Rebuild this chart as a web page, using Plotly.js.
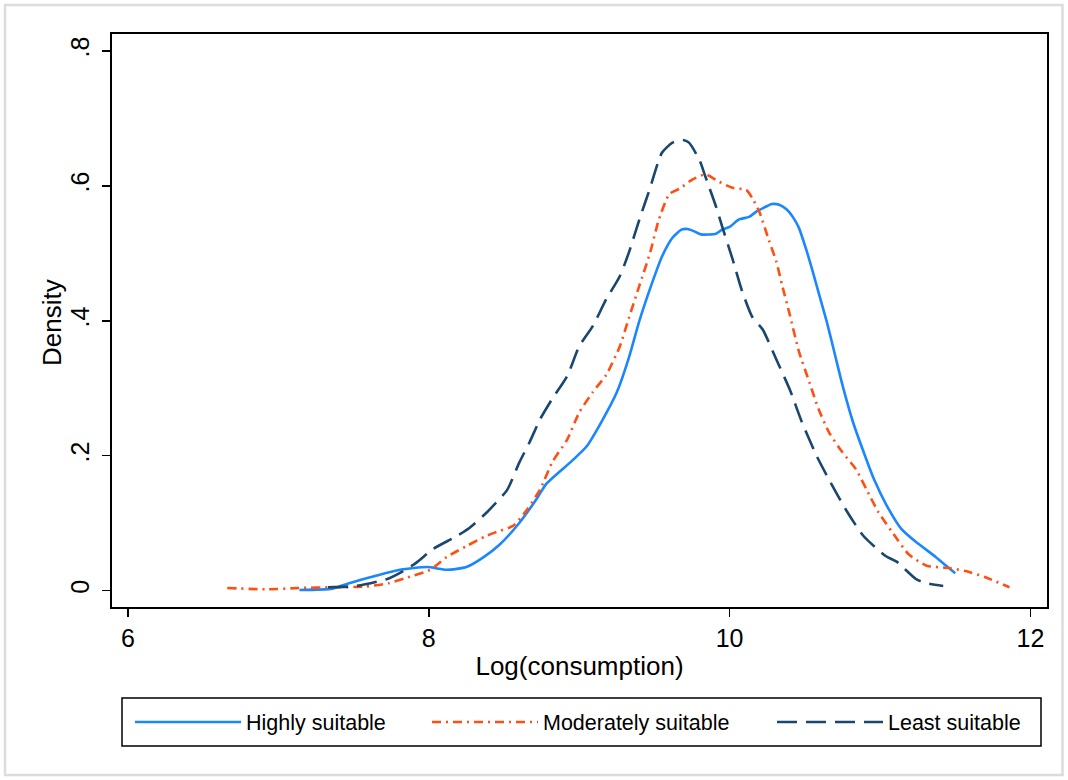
<!DOCTYPE html>
<html>
<head>
<meta charset="utf-8">
<script src="https://cdn.plot.ly/plotly-3.0.1.min.js"></script>
<style>html,body{margin:0;padding:0;background:#fff;}#chart{width:1068px;height:780px;}</style>
</head>
<body>
<div id="chart"></div>
<script>
// Highly suitable
const highX = [7.14,7.36,7.47,7.63,7.81,7.99,8.12,8.25,8.36,8.47,8.60,8.72,8.78,8.95,9.05,9.15,9.25,9.33,9.40,9.47,9.55,9.62,9.68,9.72,9.76,9.81,9.91,9.95,10.00,10.06,10.13,10.18,10.24,10.28,10.33,10.38,10.42,10.46,10.51,10.55,10.60,10.65,10.70,10.75,10.82,10.90,10.96,11.04,11.14,11.24,11.37,11.44,11.50];
const highY = [0.001,0.003,0.011,0.021,0.031,0.035,0.031,0.035,0.049,0.068,0.100,0.137,0.158,0.192,0.214,0.251,0.294,0.345,0.400,0.447,0.495,0.523,0.535,0.536,0.533,0.528,0.529,0.535,0.539,0.550,0.554,0.562,0.569,0.573,0.572,0.565,0.554,0.538,0.505,0.475,0.435,0.395,0.350,0.305,0.250,0.200,0.165,0.128,0.092,0.072,0.050,0.037,0.026];
// Moderately suitable
const modX = [6.66,6.92,7.14,7.36,7.57,7.73,7.85,8.01,8.12,8.25,8.38,8.45,8.56,8.65,8.74,8.82,8.92,9.00,9.09,9.18,9.27,9.33,9.40,9.47,9.53,9.60,9.67,9.75,9.84,9.93,10.02,10.11,10.15,10.20,10.26,10.31,10.35,10.40,10.46,10.53,10.59,10.66,10.75,10.84,10.91,10.99,11.08,11.19,11.31,11.44,11.57,11.70,11.86];
const modY = [0.004,0.002,0.004,0.005,0.006,0.011,0.019,0.031,0.050,0.066,0.081,0.087,0.096,0.119,0.150,0.190,0.224,0.264,0.294,0.320,0.362,0.404,0.452,0.500,0.550,0.588,0.596,0.609,0.617,0.606,0.597,0.594,0.582,0.560,0.520,0.488,0.452,0.409,0.355,0.309,0.270,0.235,0.205,0.180,0.150,0.116,0.087,0.054,0.037,0.034,0.029,0.020,0.005];
// Least suitable
const leastX = [7.33,7.52,7.72,7.83,7.92,8.03,8.17,8.27,8.39,8.52,8.60,8.67,8.74,8.82,8.92,9.00,9.09,9.18,9.27,9.33,9.40,9.47,9.55,9.62,9.69,9.73,9.80,9.84,9.91,9.95,10.02,10.08,10.15,10.22,10.31,10.40,10.48,10.58,10.66,10.77,10.89,11.04,11.11,11.24,11.31,11.42];
const leastY = [0.005,0.007,0.017,0.029,0.042,0.062,0.079,0.093,0.117,0.149,0.189,0.220,0.254,0.284,0.318,0.362,0.392,0.432,0.466,0.501,0.550,0.596,0.649,0.664,0.668,0.664,0.638,0.613,0.569,0.540,0.491,0.446,0.406,0.387,0.343,0.298,0.250,0.199,0.165,0.121,0.081,0.051,0.043,0.017,0.011,0.007];

const seriesNames = ["Highly suitable","Moderately suitable","Least suitable"];
const xTickVals = [6,8,10,12];
const xTickText = ["6","8","10","12"];
const yTickVals = [0,0.2,0.4,0.6,0.8];
const yTickText = ["0",".2",".4",".6",".8"];

const FONT = "Arial, 'Liberation Sans', sans-serif";

const traces = [
  {x: highX, y: highY, name: seriesNames[0], type: "scatter", mode: "lines", legend: "legend",
   line: {color: "#1a87ff", width: 2.6, shape: "spline", smoothing: 0.6}},
  {x: modX, y: modY, name: seriesNames[1], type: "scatter", mode: "lines", legend: "legend2",
   line: {color: "#ff4f12", width: 2.6, dash: "9px,5px,2px,5px", shape: "spline", smoothing: 0.6}},
  {x: leastX, y: leastY, name: seriesNames[2], type: "scatter", mode: "lines", legend: "legend3",
   line: {color: "#1a476f", width: 2.6, dash: "20px,9px", shape: "spline", smoothing: 0.6}}
];

function legendAt(xpx) {
  return {
    orientation: "h", x: (xpx - 112) / 935, xanchor: "left", y: (607 - 722) / 573, yanchor: "middle",
    borderwidth: 0, bgcolor: "rgba(0,0,0,0)",
    font: {family: FONT, size: 21.5, color: "#000"},
    itemwidth: 106, itemclick: false
  };
}

const layout = {
  width: 1068, height: 780,
  paper_bgcolor: "#ffffff", plot_bgcolor: "#ffffff",
  margin: {l: 112, r: 21, t: 34, b: 173},
  font: {family: FONT, color: "#000", size: 24},
  showlegend: true,
  legend: legendAt(130),
  legend2: legendAt(427),
  legend3: legendAt(772),
  xaxis: {
    range: [5.894, 12.11], tickvals: xTickVals, ticktext: xTickText,
    showgrid: false, zeroline: false, showline: true, linecolor: "#000", linewidth: 2,
    mirror: true, ticks: "outside", ticklen: 8, tickwidth: 1.5, tickcolor: "#000",
    tickfont: {family: FONT, size: 25, color: "#000"},
    title: {text: "Log(consumption)", font: {family: FONT, size: 26, color: "#000"}, standoff: 6},
    automargin: false
  },
  yaxis: {
    range: [-0.0242, 0.825], tickvals: yTickVals, ticktext: yTickText, tickangle: -90,
    ticklabelstandoff: 3,
    showgrid: false, zeroline: false, showline: true, linecolor: "#000", linewidth: 2,
    mirror: true, ticks: "outside", ticklen: 8, tickwidth: 1.5, tickcolor: "#000",
    tickfont: {family: FONT, size: 25, color: "#000"},
    automargin: false
  },
  annotations: [
    {text: "Density", xref: "paper", yref: "paper", x: (52 - 112) / 935, y: (607 - 322) / 573,
     xanchor: "center", yanchor: "middle", textangle: -90, showarrow: false,
     font: {family: FONT, size: 26, color: "#000"}}
  ],
  shapes: [
    {type: "rect", xref: "paper", yref: "paper", x0: -0.1144, x1: 1.0166, y0: -0.2932, y1: 1.0506,
     line: {color: "#dcdcdc", width: 2.5}, fillcolor: "rgba(0,0,0,0)", layer: "below"},
    {type: "rect", xref: "paper", yref: "paper", x0: (122 - 112) / 935, x1: (1041 - 112) / 935,
     y0: (607 - 746) / 573, y1: (607 - 698) / 573,
     line: {color: "#000", width: 1.5}, fillcolor: "rgba(0,0,0,0)", layer: "below"}
  ]
};

Plotly.newPlot("chart", traces, layout, {displayModeBar: false, staticPlot: true});
</script>
</body>
</html>
